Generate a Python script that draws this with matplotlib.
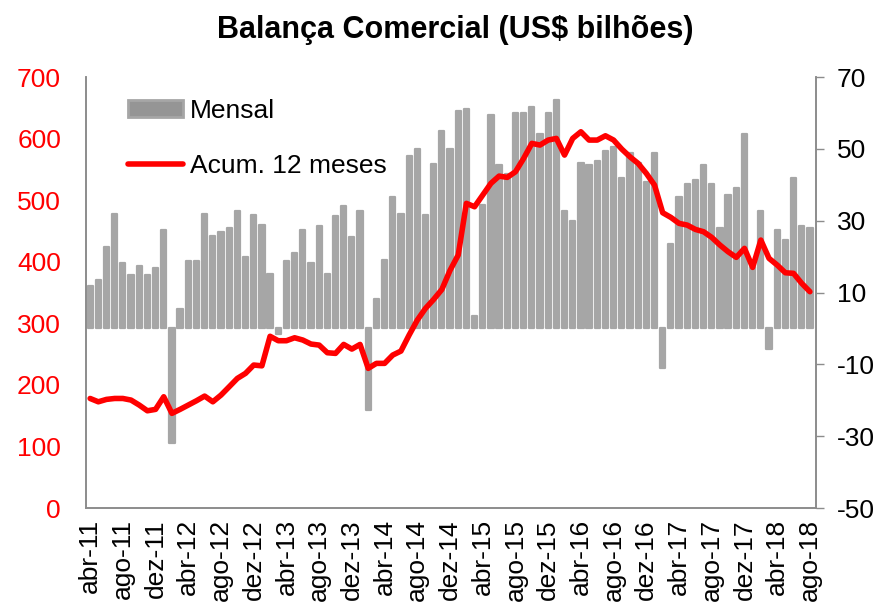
import matplotlib
matplotlib.use("Agg")
import matplotlib.pyplot as plt
from matplotlib.patches import Patch
from matplotlib.lines import Line2D
import numpy as np

plt.rcParams['font.family'] = ['Liberation Sans', 'DejaVu Sans']
plt.rcParams['axes.unicode_minus'] = False

months = ["jan", "fev", "mar", "abr", "mai", "jun", "jul", "ago", "set", "out", "nov", "dez"]
start_year, start_month, n_months = 2011, 3, 89  # abr-11 .. ago-18

mensal = [11.7, 13.6, 22.8, 31.9, 18.2, 14.8, 17.5, 14.8, 16.9, 27.5,
          -31.9, 5.4, 18.7, 18.7, 31.9, 25.7, 26.8, 28.0, 32.7, 19.9,
          31.5, 28.7, 15.2, -1.5, 18.7, 21.0, 27.3, 18.2, 28.5, 15.2,
          31.3, 34.2, 25.6, 32.6, -22.6, 8.2, 19.2, 36.6, 31.9, 47.9,
          50.0, 31.5, 45.8, 55.1, 50.0, 60.5, 61.1, 3.4, 34.4, 59.5,
          45.5, 43.0, 59.9, 59.9, 61.6, 54.2, 59.9, 63.5, 32.7, 29.8,
          46.0, 45.4, 46.6, 49.5, 50.6, 42.0, 48.9, 46.0, 40.7, 48.9,
          -10.9, 23.4, 36.7, 40.2, 41.4, 45.4, 40.2, 28.0, 37.3, 39.2,
          54.2, 17.0, 32.6, -5.7, 27.3, 24.5, 42.0, 28.6, 28.0]

acum12 = [178, 172.6, 176.5, 178, 178, 175.4, 167.3, 158, 160.3, 180.8,
          153.8, 160.3, 167.3, 174.3, 181.9, 172.6, 183.5, 197, 210.6, 218.8,
          232.3, 231, 279, 271.8, 271.8, 276.6, 272.9, 266.4, 264.7, 252.3,
          251.2, 265.8, 258.2, 265.8, 226.9, 235, 235, 248.5, 255, 281,
          305.3, 324.3, 338.9, 355, 386, 411, 494.9, 489.4, 508.4, 527.4,
          539.2, 537.1, 546.2, 567.9, 592.3, 589.6, 597.7, 600.4, 573.3, 600.4,
          611.2, 597.7, 597.7, 604.7, 597.7, 583, 570.5, 559.8, 543.6, 524.6,
          479.7, 472.1, 462.4, 459.6, 452.6, 448.8, 439.6, 427.2, 416.3, 407.2,
          421.8, 390.9, 435.3, 405.6, 394.7, 382.2, 381.2, 365, 351.4]

left_ticks = [0, 100, 200, 300, 400, 500, 600, 700]
right_ticks = [-50, -30, -10, 10, 30, 50, 70]

labels = []
for k in range(n_months):
    m = (start_month + k) % 12
    y = start_year + (start_month + k) // 12
    labels.append(f"{months[m]}-{y % 100:02d}")

x = np.arange(n_months)
tick_idx = list(range(0, n_months, 4))

fig = plt.figure(figsize=(8.87, 6.07), dpi=100)
ax2 = fig.add_axes([0.097, 0.163, 0.823, 0.710])
ax1 = ax2.twinx()
ax1.yaxis.tick_left()
ax2.yaxis.tick_right()

bar_color = '#A6A6A6'
ax2.bar(x, mensal, width=0.64, color=bar_color, edgecolor=bar_color,
        linewidth=1.6, joinstyle='round', zorder=2)
ax2.set_ylim(-50, 70)
ax2.set_yticks(right_ticks)
ax2.set_xlim(-0.5, 88.75)

ax1.plot(x, acum12, color='#FF0000', linewidth=4.0, solid_joinstyle='round',
         solid_capstyle='round', zorder=3)
ax1.set_ylim(0, 700)
ax1.set_yticks(left_ticks)
ax1.set_zorder(ax2.get_zorder() + 1)
ax1.patch.set_visible(False)

fs = 19
ax2.set_xticks(tick_idx)
ax2.set_xticklabels([labels[i] for i in tick_idx], rotation=90, fontsize=fs)
ax2.tick_params(axis='x', length=0, pad=8)
ax2.tick_params(axis='y', direction='out', length=6, width=1, color='#8C8C8C',
                labelsize=fs, pad=9, labelcolor='black')
ax1.tick_params(axis='y', length=0, labelsize=fs, pad=18, labelcolor='#FF0000')

spine_color = '#8C8C8C'
for a in (ax1, ax2):
    a.spines['top'].set_visible(False)
    for s in ('left', 'right', 'bottom'):
        a.spines[s].set_color(spine_color)
        a.spines[s].set_linewidth(1.2)

handles = [Patch(facecolor='#959595', edgecolor=bar_color, linewidth=2.0),
           Line2D([0], [0], color='#FF0000', linewidth=4.0, solid_capstyle='round')]
ax1.legend(handles, ['Mensal', 'Acum. 12 meses'], loc='upper left',
           bbox_to_anchor=(0.057, 0.95), frameon=False, fontsize=fs,
           handlelength=2.1, handleheight=0.6, handletextpad=0.25, labelspacing=1.2,
           borderpad=0, borderaxespad=0)

fig.suptitle('Balança Comercial (US$ bilhões)', x=0.513, y=0.975, fontsize=22,
             fontweight='bold')

fig.savefig('out.png', dpi=100)
